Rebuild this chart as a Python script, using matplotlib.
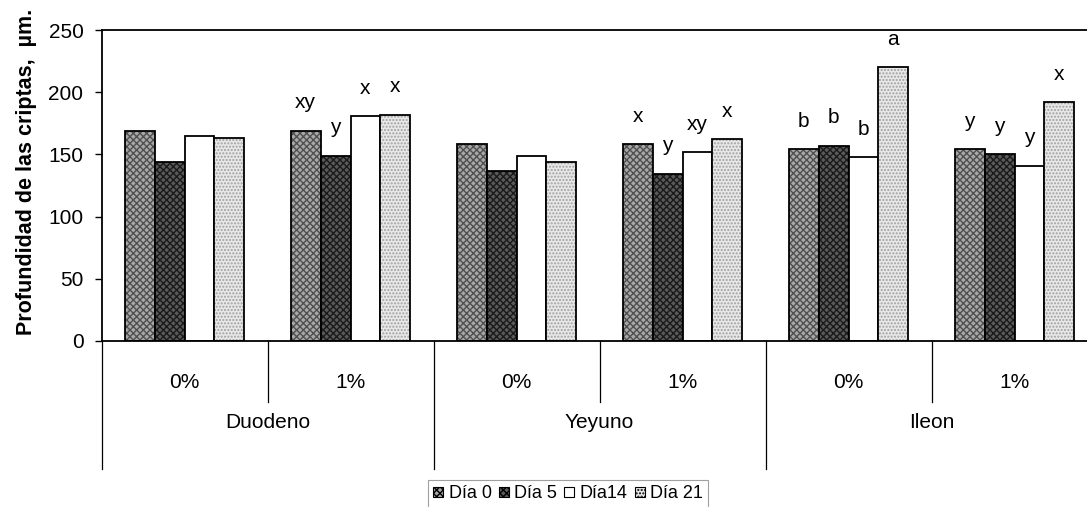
import numpy as np
import matplotlib.pyplot as plt
from matplotlib.patches import Patch

plt.rcParams['font.family'] = ['Liberation Sans', 'DejaVu Sans']

segmentos = ['Duodeno', 'Yeyuno', 'Ileon']
niveles = ['0%', '1%', '0%', '1%', '0%', '1%']
dias = ['Día 0', 'Día 5', 'Día14', 'Día 21']

# profundidad de criptas (µm) por dia, en orden de niveles
dia0 = [169, 169, 158.5, 158.5, 154, 154]
dia5 = [144, 149, 137, 134.5, 157, 150.5]
dia14 = [165, 180.5, 149, 152, 148, 141]
dia21 = [163.5, 182, 144, 162, 220, 192]

letras = [
    ['', 'xy', '', 'x', 'b', 'y'],
    ['', 'y', '', 'y', 'b', 'y'],
    ['', 'x', '', 'xy', 'b', 'y'],
    ['', 'x', '', 'x', 'a', 'x'],
]

series = [dia0, dia5, dia14, dia21]
# (relleno, color de trama, trama)
estilos = [
    ('#a8a8a8', '#505050', 'xxxxx'),
    ('#5a5a5a', '#1a1a1a', 'xxxxx'),
    ('#ffffff', '#ffffff', ''),
    ('#e8e8e8', '#a0a0a0', '.....'),
]

fig = plt.figure(figsize=(10.87, 5.07), dpi=100)
ax = fig.add_axes([101.5 / 1087, 166 / 507, 996 / 1087, 311 / 507])

ancho = 0.18
x = np.arange(len(niveles)) + 0.5
for j, (vals, (fc, hc, hatch)) in enumerate(zip(series, estilos)):
    pos = x + (j - 1.5) * ancho
    ax.bar(pos, vals, ancho, color=fc, edgecolor=hc, hatch=hatch, linewidth=0)
    ax.bar(pos, vals, ancho, fill=False, edgecolor='black', linewidth=1.3)
    for p, v, t in zip(pos, vals, letras[j]):
        if t:
            ax.annotate(t, (p, v), xytext=(0, 20), textcoords='offset points',
                        ha='center', va='center', fontsize=15)

ax.set_xlim(0, len(niveles))
ax.set_ylim(0, 250)
ax.set_yticks(np.arange(0, 251, 50))
ax.tick_params(axis='y', labelsize=15, direction='out', length=5, width=1, pad=8)
ax.set_xticks([])
ax.set_ylabel('Profundidad de las criptas,  µm.', fontsize=15.5, fontweight='bold')
ax.yaxis.set_label_coords(-0.0648, 0.545)
for lado in ['left', 'top', 'bottom']:
    ax.spines[lado].set_linewidth(1.3)
ax.spines['right'].set_visible(False)

# etiquetas de dos niveles bajo el eje x
trans = ax.get_xaxis_transform()
for xi, nivel in zip(x, niveles):
    ax.text(xi, -0.135, nivel, transform=trans, ha='center', va='center', fontsize=15)
for k, seg in enumerate(segmentos):
    ax.text(2 * k + 1, -0.262, seg, transform=trans, ha='center', va='center', fontsize=15)
for b in range(len(niveles) + 1):
    y_fin = -0.41 if b % 2 == 0 else -0.195
    ax.plot([b, b], [0, y_fin], transform=trans, color='black', lw=0.9, clip_on=False)

manejadores = [Patch(facecolor=fc, edgecolor='black', hatch=hatch, linewidth=0.8)
               for fc, hc, hatch in estilos]
leg = fig.legend(manejadores, dias, loc='upper center', ncol=4,
                 bbox_to_anchor=(568 / 1087, 1 - 480 / 507), fontsize=13,
                 frameon=True, fancybox=False, edgecolor='#888888',
                 handlelength=0.55, handleheight=0.55, handletextpad=0.3,
                 columnspacing=0.4, borderpad=0.3, borderaxespad=0)
leg.get_frame().set_linewidth(0.8)

fig.savefig('out.png', dpi=100)
